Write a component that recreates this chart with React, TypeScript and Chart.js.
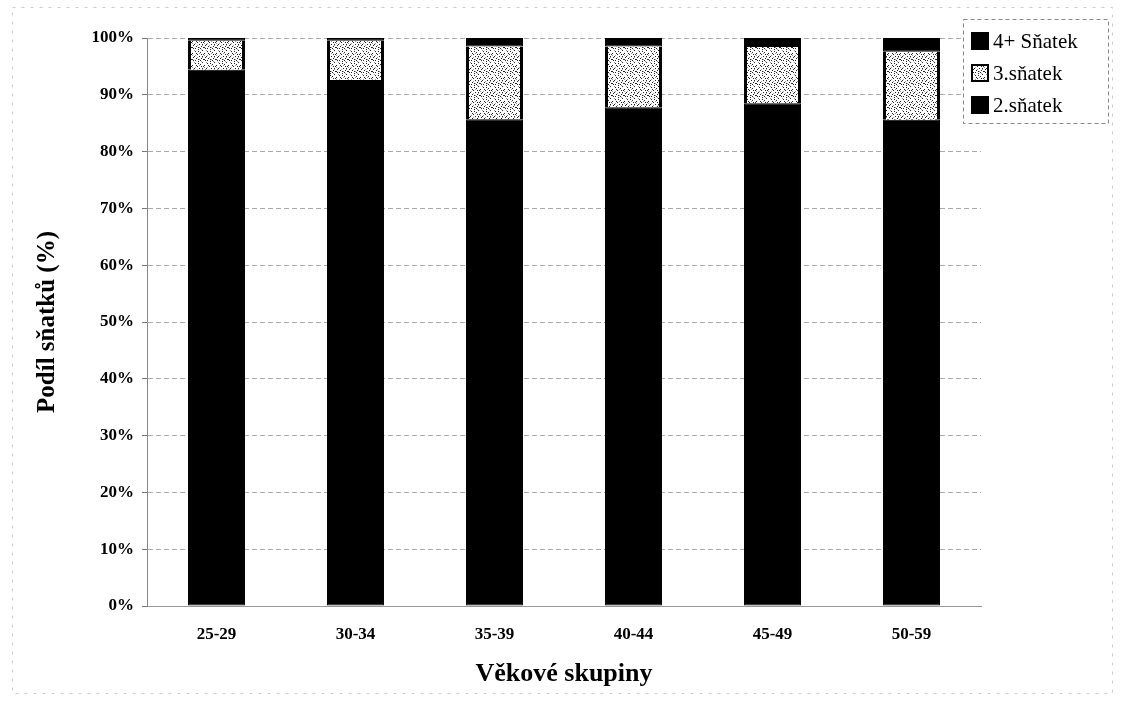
import React, { useEffect, useRef } from "react";
import { Chart, registerables } from "chart.js";

Chart.register(...registerables);

const categories = ["25-29", "30-34", "35-39", "40-44", "45-49", "50-59"];
const second = [94.4, 92.6, 85.7, 87.8, 88.5, 85.6];
const third = [5.1, 6.9, 12.8, 10.7, 9.9, 12.0];
const fourPlus = [0.5, 0.5, 1.5, 1.5, 1.6, 2.4];
const yTicks = [0, 10, 20, 30, 40, 50, 60, 70, 80, 90, 100];

const SERIF = "'Liberation Serif', 'DejaVu Serif', serif";

function makePattern(): CanvasPattern | string {
  const c = document.createElement("canvas");
  c.width = 12;
  c.height = 12;
  const g = c.getContext("2d");
  if (!g) return "#ddd";
  g.fillStyle = "#fff";
  g.fillRect(0, 0, 12, 12);
  g.fillStyle = "#222";
  const dots = [
    [1, 0], [6, 1], [10, 2], [3, 3], [8, 4], [0, 5], [5, 6], [11, 6],
    [2, 8], [7, 8], [9, 10], [4, 10], [0, 11], [6, 11], [10, 8], [3, 0],
    [8, 0], [4, 5], [1, 9], [9, 6], [6, 3], [11, 11],
  ];
  dots.forEach(([x, y]) => g.fillRect(x, y, 1, 1));
  g.fillStyle = "#999";
  const light = [[2, 2], [7, 5], [10, 9], [5, 9], [0, 7], [9, 1], [3, 7], [7, 11]];
  light.forEach(([x, y]) => g.fillRect(x, y, 1, 1));
  const p = g.createPattern(c, "repeat");
  return p || "#ddd";
}

export default function App() {
  const ref = useRef<HTMLCanvasElement>(null);
  useEffect(() => {
    if (!ref.current) return;
    const pattern = makePattern();
    const legendPlugin = {
      id: "customLegend",
      afterDraw(chart: any) {
        const ctx = chart.ctx;
        ctx.save();
        ctx.fillStyle = "#fff";
        ctx.fillRect(963, 19, 145, 104);
        ctx.strokeStyle = "#888";
        ctx.lineWidth = 1;
        ctx.setLineDash([4, 3]);
        ctx.strokeRect(963.5, 19.5, 145, 104);
        ctx.setLineDash([]);
        const items = [2, 1, 0];
        const ys = [41, 73, 105];
        items.forEach((di, i) => {
          const ds = chart.data.datasets[di];
          const y = ys[i];
          ctx.fillStyle = ds.backgroundColor;
          ctx.fillRect(972, y - 8, 16, 16);
          ctx.strokeStyle = "#000";
          ctx.lineWidth = 2;
          ctx.strokeRect(972, y - 8, 16, 16);
          ctx.fillStyle = "#000";
          ctx.font = `21px ${SERIF}`;
          ctx.textBaseline = "middle";
          ctx.textAlign = "left";
          ctx.fillText(ds.label, 993, y + 1);
        });
        ctx.restore();
      },
    };
    const framePlugin = {
      id: "frame",
      beforeDraw(chart: any) {
        const ctx = chart.ctx;
        ctx.save();
        ctx.fillStyle = "#fff";
        ctx.fillRect(0, 0, chart.width, chart.height);
        ctx.strokeStyle = "#ccc";
        ctx.lineWidth = 1;
        ctx.setLineDash([3, 6]);
        ctx.strokeRect(12.5, 7.5, 1100, 686);
        ctx.restore();
      },
    };
    const chart = new Chart(ref.current, {
      type: "bar",
      data: {
        labels: categories,
        datasets: [
          {
            label: "2.sňatek",
            data: second,
            backgroundColor: "#000",
            borderColor: "#000",
            borderWidth: 1,
            borderSkipped: false,
          },
          {
            label: "3.sňatek",
            data: third,
            backgroundColor: pattern as any,
            borderColor: "#000",
            borderWidth: { left: 3, right: 3, top: 0, bottom: 0 },
            borderSkipped: false,
          },
          {
            label: "4+ Sňatek",
            data: fourPlus,
            backgroundColor: "#000",
            borderColor: "#000",
            borderWidth: 1,
            borderSkipped: false,
          },
        ],
      },
      options: {
        animation: false,
        responsive: false,
        maintainAspectRatio: false,
        layout: { padding: { left: 0, top: 38, right: 142, bottom: 0 } },
        datasets: { bar: { barPercentage: 0.41, categoryPercentage: 1 } },
        plugins: { legend: { display: false }, tooltip: { enabled: false } },
        scales: {
          x: {
            stacked: true,
            grid: { display: false, drawTicks: false },
            border: { display: true, color: "#999", dash: [4, 4] },
            ticks: {
              color: "#000",
              font: { family: SERIF, size: 17, weight: "bold" },
              padding: 18,
            },
            title: {
              display: true,
              text: "Věkové skupiny",
              color: "#000",
              font: { family: SERIF, size: 26, weight: "bold" },
              padding: { top: 0, bottom: 11 },
            },
            afterFit(scale: any) {
              scale.height = 95;
            },
          },
          y: {
            stacked: true,
            min: 0,
            max: 100,
            afterBuildTicks(scale: any) {
              scale.ticks = yTicks.map((v) => ({ value: v }));
            },
            grid: {
              color: "#aaa",
              tickLength: 5,
              tickColor: "#777",
            },
            border: { display: true, color: "#888", dash: [5, 3] },
            ticks: {
              color: "#000",
              font: { family: SERIF, size: 17, weight: "bold" },
              padding: 8,
              callback: (v: any) => `${v}%`,
            },
            title: {
              display: true,
              text: "Podíl sňatků (%)",
              color: "#000",
              font: { family: SERIF, size: 25, weight: "bold" },
              padding: { top: 33, bottom: 0 },
            },
            afterFit(scale: any) {
              scale.width = 147;
            },
          },
        },
      },
      plugins: [framePlugin, legendPlugin],
    } as any);
    (chart.options.scales as any).y.grid.borderDash = [6, 4];
    chart.update();
    return () => chart.destroy();
  }, []);
  return (
    <div style={{ position: "fixed", left: 0, top: 0, width: 1123, height: 701, background: "#fff" }}>
      <canvas ref={ref} width={1123} height={701} style={{ width: 1123, height: 701 }} />
    </div>
  );
}
